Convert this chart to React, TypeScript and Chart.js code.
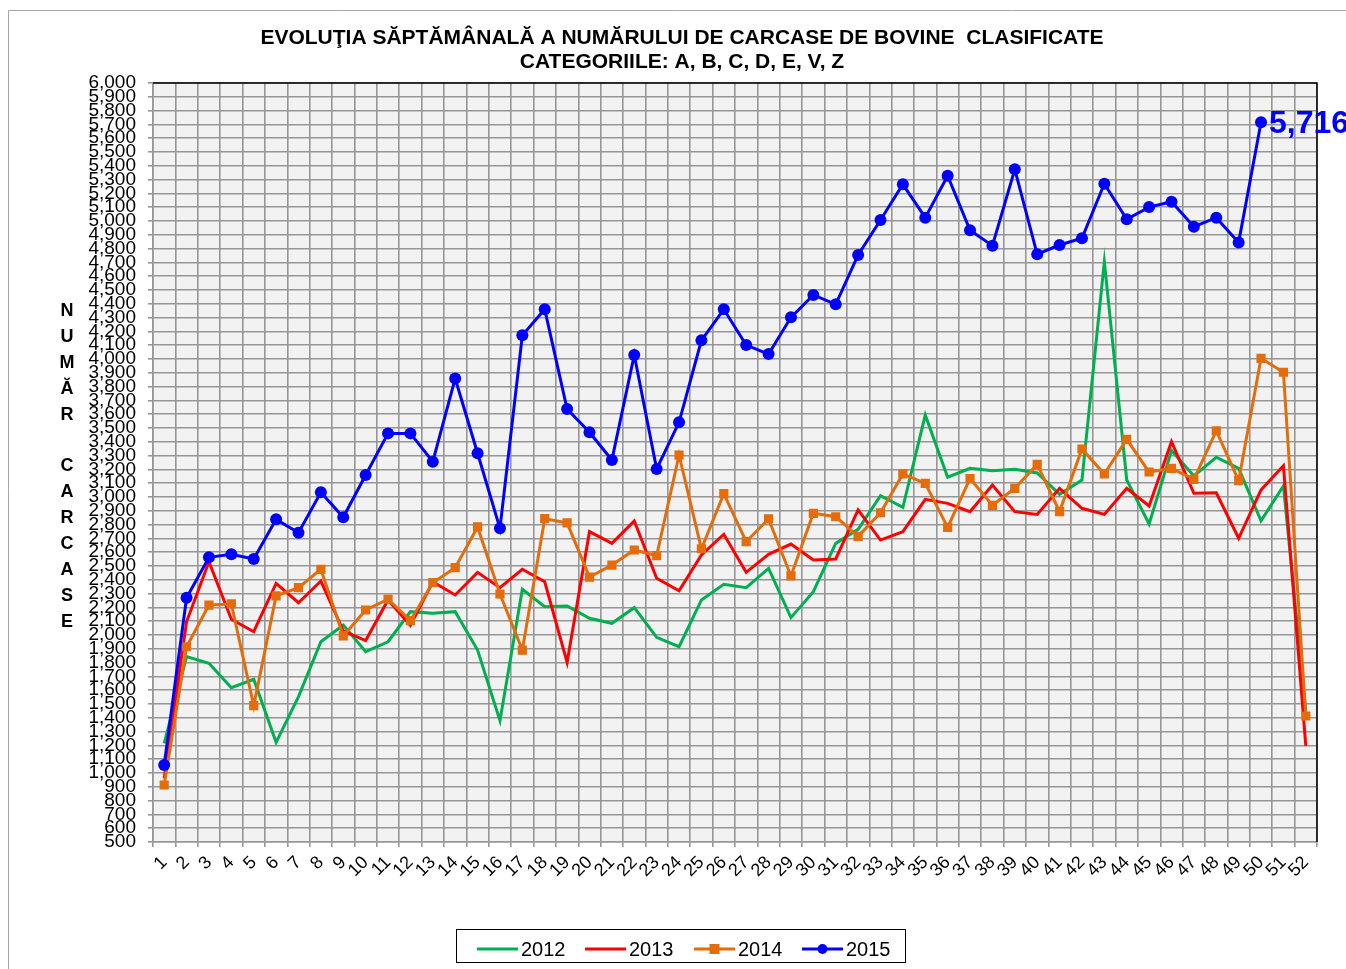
import React, { useEffect, useRef } from 'react';
import { Chart, registerables } from 'chart.js';

Chart.register(...registerables);

const titleLines = [
  'EVOLUŢIA SĂPTĂMÂNALĂ A NUMĂRULUI DE CARCASE DE BOVINE  CLASIFICATE',
  'CATEGORIILE: A, B, C, D, E, V, Z',
];
const yAxisTitle = 'NUMĂR CARCASE';

const weeks = [
  '1', '2', '3', '4', '5', '6', '7', '8', '9', '10', '11', '12', '13', '14', '15', '16', '17', '18', '19', '20',
  '21', '22', '23', '24', '25', '26', '27', '28', '29', '30', '31', '32', '33', '34', '35', '36', '37', '38', '39', '40',
  '41', '42', '43', '44', '45', '46', '47', '48', '49', '50', '51', '52',
];

const yMin = 500;
const yMax = 6000;
const yStep = 100;

const seriesLabels = ['2012', '2013', '2014', '2015'];

const values2012 = [
  1215, 1843, 1795, 1618, 1679, 1222, 1553, 1951, 2072, 1879, 1951, 2169, 2157, 2169, 1891, 1379, 2331, 2205, 2210, 2121,
  2085, 2198, 1983, 1915, 2254, 2367, 2343, 2483, 2126, 2314, 2664, 2766, 3010, 2925, 3594, 3143, 3208, 3191, 3201, 3174,
  3019, 3123, 4705, 3123, 2804, 3336, 3152, 3288, 3208, 2828, 3080, 1450,
];

const values2013 = [
  960, 2096, 2531, 2114, 2024, 2374, 2234, 2391, 2030, 1960, 2254, 2070, 2386, 2290, 2454, 2343, 2476, 2386, 1802, 2749,
  2664, 2826, 2411, 2321, 2580, 2730, 2454, 2585, 2659, 2543, 2551, 2906, 2688, 2749, 2983, 2954, 2894, 3087, 2894, 2874,
  3063, 2918, 2874, 3063, 2935, 3401, 3027, 3031, 2701, 3051, 3227, 1196,
];

const values2014 = [
  913, 1915, 2217, 2225, 1488, 2283, 2343, 2476, 1993, 2181, 2259, 2104, 2379, 2488, 2783, 2297, 1891, 2843, 2812, 2420,
  2507, 2616, 2575, 3304, 2625, 3024, 2676, 2841, 2428, 2882, 2857, 2715, 2886, 3167, 3099, 2780, 3133, 2940, 3063, 3237,
  2894, 3348, 3167, 3418, 3181, 3208, 3128, 3480, 3118, 4005, 3904, 1413,
];

const values2015 = [
  1058, 2270, 2563, 2585, 2551, 2838, 2741, 3034, 2853, 3159, 3461, 3461, 3256, 3859, 3317, 2773, 4172, 4360, 3638, 3469,
  3268, 4029, 3203, 3541, 4135, 4360, 4101, 4036, 4302, 4464, 4396, 4754, 5007, 5266, 5024, 5328, 4933, 4821, 5375, 4759,
  4826, 4875, 5270, 5012, 5101, 5140, 4959, 5024, 4845, 5716, null, null,
];

const colors = ['#00b050', '#ff0000', '#e46c0a', '#0000ff'];
const FONT = '"Liberation Sans", Arial, sans-serif';

const fmt = (v: number) => v.toLocaleString('en-US');

const decorPlugin = {
  id: 'decor',
  beforeDraw(chart: any) {
    const { ctx, chartArea: a } = chart;
    ctx.save();
    ctx.fillStyle = '#ffffff';
    ctx.fillRect(0, 0, chart.width, chart.height);
    // outer frame
    ctx.strokeStyle = '#a6a6a6';
    ctx.lineWidth = 1;
    ctx.beginPath();
    ctx.moveTo(8.5, chart.height);
    ctx.lineTo(8.5, 10.5);
    ctx.lineTo(chart.width, 10.5);
    ctx.stroke();
    // plot background
    ctx.fillStyle = '#f2f2f2';
    ctx.fillRect(a.left, a.top, a.right - a.left, a.bottom - a.top);
    // titles
    ctx.fillStyle = '#000';
    ctx.textAlign = 'center';
    ctx.textBaseline = 'middle';
    ctx.font = `bold 21px ${FONT}`;
    ctx.fillText(titleLines[0], 682, 38);
    ctx.fillText(titleLines[1], 682, 62);
    // vertical y-axis title
    ctx.font = `bold 18px ${FONT}`;
    const letters = Array.from(yAxisTitle);
    letters.forEach((ch, i) => {
      if (ch.trim()) ctx.fillText(ch, 67, 311 + i * 25.9);
    });
    ctx.restore();
  },
  afterDraw(chart: any) {
    const { ctx, chartArea: a } = chart;
    ctx.save();
    // plot border top & right
    ctx.strokeStyle = '#000';
    ctx.lineWidth = 1.5;
    ctx.beginPath();
    ctx.moveTo(a.left, a.top);
    ctx.lineTo(a.right, a.top);
    ctx.lineTo(a.right, a.bottom);
    ctx.stroke();

    // data label for last 2015 value
    const meta = chart.getDatasetMeta(3);
    const idx = 49;
    const pt = meta.data[idx];
    if (pt) {
      ctx.fillStyle = colors[3];
      ctx.font = `bold 32px ${FONT}`;
      ctx.textAlign = 'left';
      ctx.textBaseline = 'middle';
      ctx.fillText(fmt(values2015[idx] as number), pt.x + 8, pt.y + 2);
    }

    // legend
    ctx.strokeStyle = '#000';
    ctx.lineWidth = 1;
    ctx.strokeRect(456.5, 929.5, 449, 33);
    const starts = [477, 585, 694, 802];
    const ly = 949;
    seriesLabels.forEach((lab, i) => {
      const x = starts[i];
      ctx.strokeStyle = colors[i];
      ctx.lineWidth = 3;
      ctx.beginPath();
      ctx.moveTo(x, ly);
      ctx.lineTo(x + 41, ly);
      ctx.stroke();
      ctx.fillStyle = colors[i];
      if (i === 2) ctx.fillRect(x + 20.5 - 5, ly - 5, 10, 10);
      if (i === 3) {
        ctx.beginPath();
        ctx.arc(x + 20.5, ly, 5, 0, Math.PI * 2);
        ctx.fill();
      }
      ctx.fillStyle = '#000';
      ctx.font = `20px ${FONT}`;
      ctx.textAlign = 'left';
      ctx.textBaseline = 'middle';
      ctx.fillText(lab, x + 44, ly + 1);
    });
    ctx.restore();
  },
};

export default function App() {
  const ref = useRef<HTMLCanvasElement | null>(null);
  useEffect(() => {
    if (!ref.current) return;
    const chart = new Chart(ref.current, {
      type: 'line',
      data: {
        labels: weeks,
        datasets: [
          {
            label: seriesLabels[0],
            data: values2012,
            borderColor: colors[0],
            backgroundColor: colors[0],
            borderWidth: 3,
            pointRadius: 0,
            tension: 0,
            order: 3,
          },
          {
            label: seriesLabels[1],
            data: values2013,
            borderColor: colors[1],
            backgroundColor: colors[1],
            borderWidth: 3,
            pointRadius: 0,
            tension: 0,
            order: 2,
          },
          {
            label: seriesLabels[2],
            data: values2014,
            borderColor: colors[2],
            backgroundColor: colors[2],
            borderWidth: 3,
            pointStyle: 'rect',
            pointRadius: 6.5,
            pointBorderWidth: 0,
            tension: 0,
            order: 1,
          },
          {
            label: seriesLabels[3],
            data: values2015,
            borderColor: colors[3],
            backgroundColor: colors[3],
            borderWidth: 3,
            pointStyle: 'circle',
            pointRadius: 6,
            pointBorderWidth: 0,
            tension: 0,
            order: 0,
          },
        ],
      },
      options: {
        responsive: false,
        animation: false,
        devicePixelRatio: 1,
        layout: { padding: { left: 0, top: 83, right: 29, bottom: 0 } },
        plugins: {
          legend: { display: false },
          title: { display: false },
          tooltip: { enabled: false },
        },
        scales: {
          x: {
            type: 'category',
            offset: true,
            afterFit: (s: any) => {
              s.height = 127;
            },
            grid: {
              offset: true,
              color: '#969696',
              lineWidth: 1.6,
              tickLength: 5,
            },
            border: { display: true, color: '#969696', width: 1.6 },
            ticks: {
              autoSkip: false,
              minRotation: 45,
              maxRotation: 45,
              padding: 5,
              color: '#000',
              font: { family: FONT, size: 18 },
            },
          },
          y: {
            type: 'linear',
            min: yMin,
            max: yMax,
            afterFit: (s: any) => {
              s.width = 153;
            },
            grid: {
              color: '#969696',
              lineWidth: 1.6,
              tickLength: 5,
            },
            border: { display: true, color: '#969696', width: 1.6 },
            ticks: {
              stepSize: yStep,
              autoSkip: false,
              padding: 12,
              color: '#000',
              font: { family: FONT, size: 19, lineHeight: 0.8 },
              callback: (v: any) => fmt(Number(v)),
            },
          },
        },
      },
      plugins: [decorPlugin],
    });
    return () => chart.destroy();
  }, []);
  return (
    <div style={{ position: 'absolute', left: 0, top: 0, width: 1346, height: 969 }}>
      <canvas ref={ref} width={1346} height={969} style={{ display: 'block' }} />
    </div>
  );
}
